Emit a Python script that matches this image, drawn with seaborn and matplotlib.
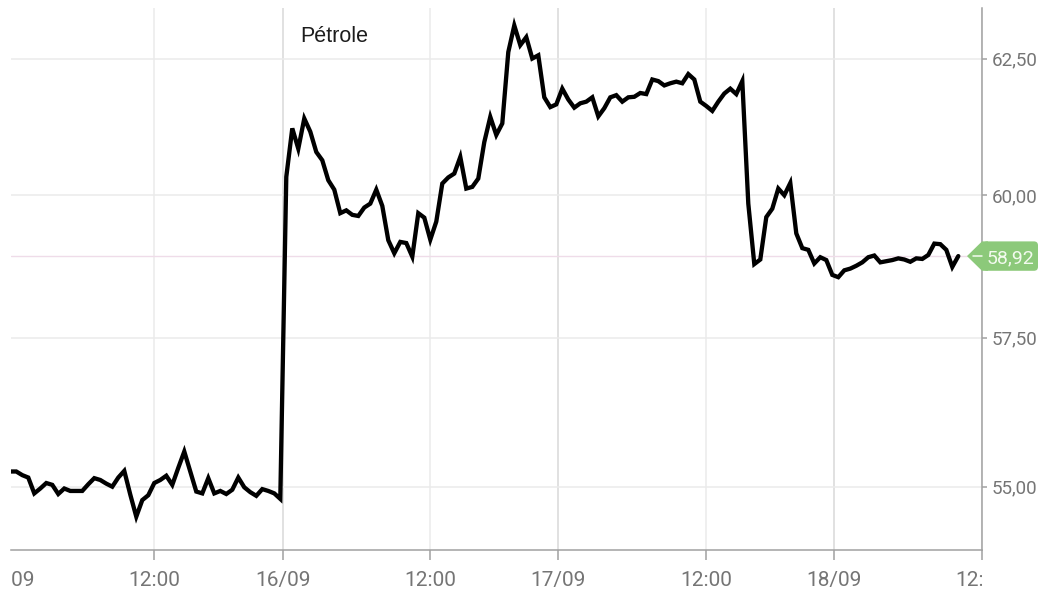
import matplotlib
matplotlib.use("Agg")
import matplotlib.pyplot as plt
import seaborn as sns
import pandas as pd
from matplotlib import transforms
from matplotlib.patches import Polygon, FancyBboxPatch
from matplotlib.lines import Line2D
from matplotlib.ticker import NullLocator

# ---------------- data ----------------
price = [
    55.25, 55.25, 55.19, 55.15, 54.89, 54.97, 55.06, 55.03, 54.88, 54.97,
    54.93, 54.93, 54.93, 55.04, 55.14, 55.11, 55.05, 55.00, 55.15, 55.26,
    54.87, 54.51, 54.78, 54.86, 55.06, 55.11, 55.18, 55.03, 55.31, 55.58,
    55.25, 54.92, 54.89, 55.14, 54.89, 54.93, 54.88, 54.95, 55.15, 54.99,
    54.91, 54.85, 54.96, 54.93, 54.89, 54.80, 60.33, 61.21, 60.84, 61.39,
    61.15, 60.78, 60.63, 60.27, 60.10, 59.68, 59.73, 59.65, 59.63, 59.78,
    59.85, 60.10, 59.81, 59.20, 58.97, 59.17, 59.15, 58.91, 59.68, 59.60,
    59.21, 59.53, 60.21, 60.32, 60.39, 60.69, 60.12, 60.15, 60.30, 60.96,
    61.42, 61.09, 61.30, 62.62, 63.12, 62.75, 62.90, 62.50, 62.56, 61.78,
    61.60, 61.65, 61.94, 61.74, 61.59, 61.67, 61.70, 61.78, 61.43, 61.58,
    61.78, 61.82, 61.70, 61.78, 61.79, 61.86, 61.84, 62.11, 62.08, 62.00,
    62.04, 62.07, 62.04, 62.21, 62.11, 61.70, 61.62, 61.53, 61.70, 61.85,
    61.94, 61.84, 62.08, 59.85, 58.78, 58.86, 59.61, 59.76, 60.12, 60.00,
    60.22, 59.32, 59.06, 59.03, 58.79, 58.90, 58.85, 58.59, 58.55, 58.67,
    58.70, 58.75, 58.81, 58.90, 58.93, 58.81, 58.83, 58.85, 58.88, 58.86,
    58.82, 58.88, 58.87, 58.94, 59.14, 59.13, 59.03, 58.73, 58.92,
]
step = list(range(len(price)))  # half-hour trading steps

tick_pos = [-0.6, 23.95, 45.4, 69.95, 91.33, 115.95, 137.33, 161.9]
tick_labels = ["15/09", "12:00", "16/09", "12:00", "17/09", "12:00", "18/09", "12:00"]
y_ticks = [55.0, 57.5, 60.0, 62.5]
y_tick_labels = ["55,00", "57,50", "60,00", "62,50"]
title = "Pétrole"
last_label = "58,92"

# ---------------- style ----------------
sns.set_theme(style="white")
plt.rcParams["font.family"] = ["Roboto", "DejaVu Sans"]

W, H = 1043, 592
AX_L, AX_R, AX_T, AX_B = 11, 982, 8, 550
XLIM = (0.12, 161.95)
YLIM = (53.97, 63.45)
GRAY = "#a0a0a0"
LABEL = "#757575"
GREEN = "#8cc97a"

fig = plt.figure(figsize=(W / 100, H / 100), dpi=100)
ax = fig.add_axes([AX_L / W, 1 - AX_B / H, (AX_R - AX_L) / W, (AX_B - AX_T) / H])
ax.set_yscale("log")

df = pd.DataFrame({"step": step, "price": price})
sns.lineplot(data=df, x="step", y="price", ax=ax, color="black",
             linewidth=3.1, estimator=None, zorder=5)
ax.lines[-1].set_solid_joinstyle("miter")

# grid
for p, lab in zip(tick_pos, tick_labels):
    ax.axvline(p, color="#d8d8d8" if "/" in lab else "#ebebeb", lw=1.1, zorder=1)
for yt in y_ticks:
    ax.axhline(yt, color="#ebebeb", lw=1.1, zorder=1)
ax.axhline(price[-1], color="#efdce9", lw=1.0, zorder=2)

ax.set_xlim(*XLIM)
ax.set_ylim(*YLIM)
ax.set_xlabel("")
ax.set_ylabel("")

ax.set_xticks([p for p in tick_pos if XLIM[0] <= p <= XLIM[1]])
ax.tick_params(axis="x", bottom=True, labelbottom=False, length=7.2, width=1.1,
               color=GRAY, direction="out")

ax.yaxis.tick_right()
ax.set_yticks(y_ticks)
ax.set_yticklabels(y_tick_labels)
ax.yaxis.set_minor_locator(NullLocator())
ax.tick_params(axis="y", which="major", right=True, left=False, length=3.6, width=1.1,
               color=GRAY, pad=3.5, labelsize=13.5, labelcolor=LABEL, direction="out")
ax.tick_params(axis="y", which="minor", right=False, left=False)

for s in ["left", "top"]:
    ax.spines[s].set_visible(False)
for s in ["bottom", "right"]:
    ax.spines[s].set_visible(True)
    ax.spines[s].set_color(GRAY)
    ax.spines[s].set_linewidth(1.1)

# x tick labels, clipped to the plot width
blend = transforms.blended_transform_factory(ax.transData, fig.transFigure)
clip = transforms.TransformedBbox(
    transforms.Bbox([[AX_L / W, 0], [AX_R / W, 1]]), fig.transFigure)
for p, lab in zip(tick_pos, tick_labels):
    t = fig.text(p, 6 / H, lab, transform=blend, ha="center", va="baseline",
                 fontsize=15, color=LABEL)
    t.set_clip_box(clip)
    t.set_clip_on(True)

# title
fig.text(300.7 / W, 1 - 37 / H, title, ha="left", va="center", fontsize=15.5,
         color="#1c1c1c", family=["Liberation Sans", "DejaVu Sans"])

# last value tag
ident = transforms.IdentityTransform()
yc = ax.transData.transform((XLIM[0], price[-1]))[1]
half = 14.7
tip_x, base_x, right_x = 967, 982, 1038
tri = Polygon([[tip_x, yc], [base_x, yc + half], [base_x + 6, yc + half],
               [base_x + 6, yc - half], [base_x, yc - half]], closed=True,
              transform=ident, fc=GREEN, ec="none", zorder=10)
box = FancyBboxPatch((base_x + 1, yc - half), right_x - base_x - 1, 2 * half,
                     boxstyle="round,pad=0,rounding_size=4", transform=ident,
                     fc=GREEN, ec="none", zorder=10)
fig.add_artist(tri)
fig.add_artist(box)
fig.add_artist(Line2D([973, 982], [yc, yc], transform=ident, color="#f4fbf0",
                      lw=1.1, zorder=11))
fig.text(1010, yc, last_label, transform=ident, ha="center", va="center_baseline",
         fontsize=14, color="#f2faee", zorder=12)

fig.savefig("out.png", dpi=100)
